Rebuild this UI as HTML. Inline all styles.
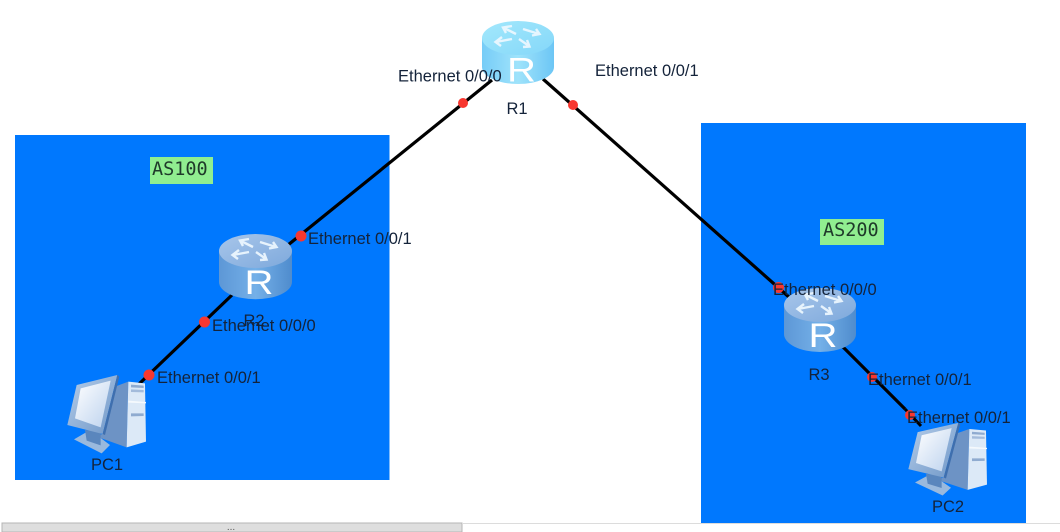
<!DOCTYPE html>
<html>
<head>
<meta charset="utf-8">
<style>
html,body{margin:0;padding:0;background:#fff;width:1060px;height:532px;overflow:hidden}
svg{display:block;filter:blur(0.35px)}
text{font-family:"Liberation Sans",sans-serif;font-size:16.5px;fill:#14233a}
.c{text-anchor:middle}
.m{font-family:"DejaVu Sans Mono","Liberation Mono",monospace;font-size:18.5px;fill:#1f3a2a}
.r{font-size:34px;fill:#fff;text-anchor:middle}
</style>
</head>
<body>
<svg width="1060" height="532" viewBox="0 0 1060 532" xmlns="http://www.w3.org/2000/svg">
<defs>
<linearGradient id="b1" x1="0" x2="1" y1="0" y2="0"><stop offset="0" stop-color="#76ccf7"/><stop offset=".5" stop-color="#9fe3fb"/><stop offset="1" stop-color="#6cc6f5"/></linearGradient>
<linearGradient id="b2" x1="0" x2="1" y1="0" y2="0"><stop offset="0" stop-color="#5d97d6"/><stop offset=".5" stop-color="#74b0e8"/><stop offset="1" stop-color="#4f8ccd"/></linearGradient>
<linearGradient id="t1" x1="0" x2="1" y1="0" y2="1"><stop offset="0" stop-color="#a3e8fc"/><stop offset="1" stop-color="#84d7f9"/></linearGradient>
<linearGradient id="t2" x1="0" x2="1" y1="0" y2="1"><stop offset="0" stop-color="#a8c6ea"/><stop offset="1" stop-color="#7ea9dc"/></linearGradient>
<linearGradient id="scr" x1="0" x2="1" y1="0" y2="1"><stop offset="0" stop-color="#ffffff"/><stop offset="1" stop-color="#bcd2ee"/></linearGradient>
<linearGradient id="mon" x1="0" x2="1" y1="0" y2="1"><stop offset="0" stop-color="#b5cde9"/><stop offset="1" stop-color="#6f97c8"/></linearGradient>
<g id="arrows" fill="none" stroke="#eef8ff" stroke-width="2.4" opacity=".92">
<path d="M34 13 L22 7 M30 5 L21 6.500 L24 12"/>
<path d="M41 8 L57 13 M50 14.500 L57.500 13 L54 8"/>
<path d="M30 18 L14 21 M20 16 L13.500 21 L19 25"/>
<path d="M37 18 L47 25 M41 26 L47.500 25.500 L45 19"/>
</g>
<g id="pc">
<polygon points="165,50 205,35 200,232 110,200 130,190" fill="#6d93c5"/>
<polygon points="205,35 255,40 258,215 200,232" fill="#dce9f7"/>
<polygon points="213,44 251,47 251,54 213,52" fill="#8fabd0"/>
<polygon points="213,58 251,60 251,67 213,66" fill="#a3bbdb"/>
<polygon points="205,92 258,96 258,100 205,98" fill="#f5f9fd"/>
<polygon points="213,130 251,130 251,138 213,139" fill="#8fabd0"/>
<polygon points="42,208 80,186 110,195 150,225 125,250" fill="#9ab9dd"/>
<polygon points="75,180 122,185 122,226 80,212" fill="#5a86bd"/>
<polygon points="22,165 50,45 172,15 128,192" fill="url(#mon)"/>
<polygon points="128,192 172,15 178,20 135,195" fill="#3f6fae"/>
<polygon points="45,145 62,55 152,32 122,172" fill="url(#scr)"/>
</g>
</defs>

<rect x="15" y="135" width="374.500" height="345" fill="#0078fe"/>
<rect x="701" y="123" width="325" height="400" fill="#0078fe"/>

<rect x="2" y="523" width="460" height="9" fill="#dedede" stroke="#b5b5b5" stroke-width="1"/>
<line x1="462" y1="523.500" x2="1060" y2="523.500" stroke="#dcdcdc" stroke-width="1"/>
<text x="231" y="530" class="c" style="font-size:10px;fill:#555">...</text>

<rect x="150" y="157" width="63" height="27" fill="#90ee90"/>
<text x="152" y="175" class="m">AS100</text>
<rect x="820" y="219" width="64" height="26" fill="#90ee90"/>
<text x="823" y="236" class="m">AS200</text>

<g stroke="#000" stroke-width="3.200" fill="none">
<line x1="492" y1="80" x2="288" y2="245"/>
<line x1="232" y1="295" x2="139" y2="384"/>
<line x1="543" y1="79" x2="790" y2="298"/>
<line x1="842" y1="346" x2="905" y2="409"/>
</g>

<!-- R1 -->
<g transform="translate(482,21)">
<path d="M0 17 V46 A36 17 0 0 0 72 46 V17 Z" fill="url(#b1)"/>
<ellipse cx="36" cy="17" rx="36" ry="17" fill="url(#t1)"/>
<use href="#arrows"/>
<text class="r" transform="translate(39.500,60.500) scale(1.180,1)">R</text>
</g>
<!-- R2 -->
<g transform="translate(219,234)">
<path d="M0 17 V48 A36 17 0 0 0 73 48 V17 Z" fill="url(#b2)"/>
<ellipse cx="36.500" cy="17" rx="36.500" ry="17" fill="url(#t2)"/>
<use href="#arrows"/>
<text class="r" transform="translate(40,60) scale(1.180,1)">R</text>
</g>
<!-- R3 -->
<g transform="translate(784,288)">
<path d="M0 17 V46 A36 18 0 0 0 72 46 V17 Z" fill="url(#b2)"/>
<ellipse cx="36" cy="17" rx="36" ry="17" fill="url(#t2)"/>
<use href="#arrows"/>
<text class="r" transform="translate(39,59) scale(1.180,1)">R</text>
</g>

<use href="#pc" transform="translate(60,370) scale(0.3333)"/>
<use href="#pc" transform="translate(901,418.200) scale(0.3333,0.309)"/>
<line x1="905" y1="409" x2="921" y2="426" stroke="#000" stroke-width="3"/>

<g fill="#f8372f">
<circle cx="463" cy="103" r="5"/>
<circle cx="573" cy="105" r="5"/>
<circle cx="301" cy="236" r="5.500"/>
<circle cx="204.500" cy="322" r="5.500"/>
<circle cx="149" cy="375" r="5.500"/>
<circle cx="778.500" cy="287.500" r="5.500"/>
<circle cx="872" cy="377" r="5"/>
<circle cx="910" cy="415" r="5"/>
</g>

<text x="398" y="81.500">Ethernet 0/0/0</text>
<text x="595" y="76">Ethernet 0/0/1</text>
<text x="517" y="114" class="c">R1</text>
<text x="308" y="244">Ethernet 0/0/1</text>
<text x="254" y="326" class="c">R2</text>
<text x="212" y="331">Ethernet 0/0/0</text>
<text x="157" y="383">Ethernet 0/0/1</text>
<text x="107" y="470" class="c">PC1</text>
<text x="773" y="295">Ethernet 0/0/0</text>
<text x="819" y="380" class="c">R3</text>
<text x="868" y="385">Ethernet 0/0/1</text>
<text x="907" y="423">Ethernet 0/0/1</text>
<text x="948" y="512" class="c">PC2</text>
</svg>
</body>
</html>
